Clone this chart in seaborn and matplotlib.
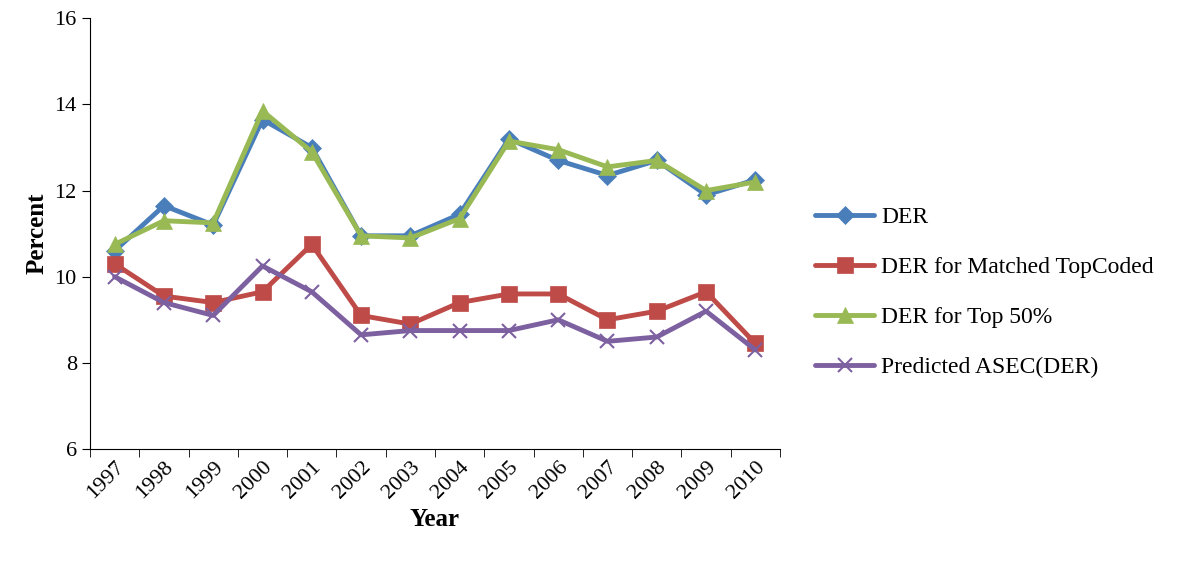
import numpy as np
import pandas as pd
import seaborn as sns
import matplotlib.pyplot as plt

years = [str(y) for y in range(1997, 2011)]
der = [10.6, 11.65, 11.2, 13.65, 13.0, 10.95, 10.95, 11.45, 13.2, 12.7, 12.35, 12.7, 11.9, 12.25]
der_matched = [10.3, 9.55, 9.4, 9.65, 10.75, 9.1, 8.9, 9.4, 9.6, 9.6, 9.0, 9.2, 9.65, 8.45]
der_top50 = [10.75, 11.3, 11.25, 13.85, 12.9, 10.95, 10.9, 11.35, 13.15, 12.95, 12.55, 12.7, 12.0, 12.2]
predicted = [10.0, 9.4, 9.1, 10.25, 9.65, 8.65, 8.75, 8.75, 8.75, 9.0, 8.5, 8.6, 9.2, 8.3]

series = {
    'DER': (der, '#4a7ebb', 'D', 9),
    'DER for Matched TopCoded': (der_matched, '#be4b48', 's', 11),
    'DER for Top 50%': (der_top50, '#98b954', '^', 11),
    'Predicted ASEC(DER)': (predicted, '#7d60a0', 'x', 10),
}

sns.set_style('white')
plt.rcParams['font.family'] = ['Liberation Serif', 'DejaVu Serif']
plt.rcParams['text.color'] = 'black'
plt.rcParams['axes.labelcolor'] = 'black'
plt.rcParams['xtick.color'] = 'black'
plt.rcParams['ytick.color'] = 'black'

fig = plt.figure(figsize=(12, 5.63), dpi=100)
ax = fig.add_axes([0.075, 0.2025, 0.575, 0.765])
x = np.arange(len(years))
for name, (vals, col, mk, ms) in series.items():
    df = pd.DataFrame({'x': x, 'y': vals})
    sns.lineplot(data=df, x='x', y='y', ax=ax, color=col, marker=mk, markersize=ms,
                 linewidth=3.5, label=name, markeredgecolor=col, markeredgewidth=1.5 if mk == 'x' else 0.5)

ax.set_xlim(-0.5, 13.5)
ax.set_ylim(6, 16)
ax.set_yticks([6, 8, 10, 12, 14, 16])
ax.set_xticks(x)
ax.set_xticklabels(years, rotation=45, ha='right', rotation_mode='anchor')
ax.set_xticks(np.arange(-0.5, 14, 1), minor=True)
ax.tick_params(axis='x', which='major', length=0, labelsize=16, pad=6)
ax.tick_params(axis='x', which='minor', length=6, bottom=True, direction='out')
ax.tick_params(axis='y', labelsize=16, left=True, length=6, direction='out')
for s in ['top', 'right']:
    ax.spines[s].set_visible(False)
for s in ['left', 'bottom']:
    ax.spines[s].set_color('black')
ax.set_xlabel('Year', fontsize=18, fontweight='bold')
ax.set_ylabel('Percent', fontsize=18, fontweight='bold')
ax.legend(loc='center left', bbox_to_anchor=(1.02, 0.364), frameon=False, fontsize=17,
          labelspacing=1.2, handlelength=2.5, handletextpad=0.3)
fig.savefig('out.png', dpi=100)
